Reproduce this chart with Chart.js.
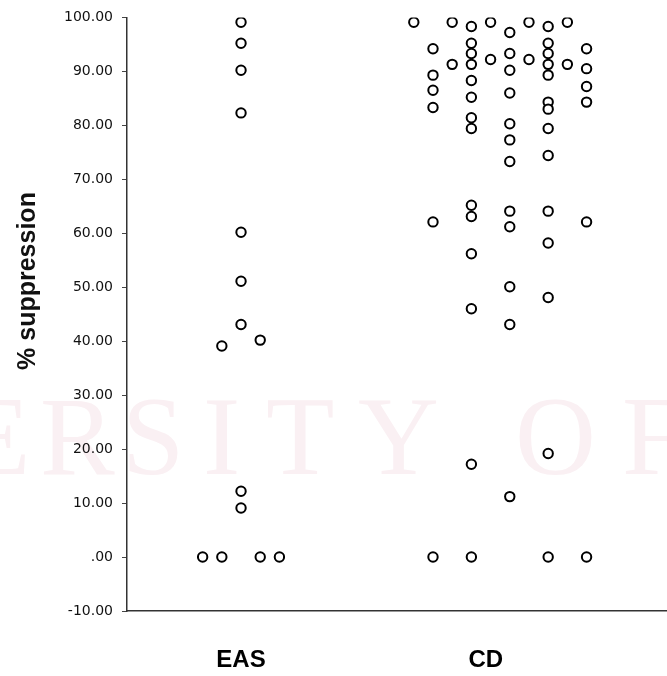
<!DOCTYPE html>
<html lang="en">
<head>
    <meta charset="UTF-8">
    <title>% suppression: EAS vs CD</title>
    <script src="https://cdn.jsdelivr.net/npm/chart.js"></script>
    <style>
        body { margin: 0; background: #fff; }
        #wrap { width: 667px; height: 676px; }
    </style>
</head>
<body>
    <div id="wrap"><canvas id="dotChart"></canvas></div>

    <script>
        // groups and where they sit on the x scale
        const categories = ['EAS', 'CD'];
        const groupCenters = [0, 13.5];
        const labelPositions = [0, 12.75];

        // dot columns (offset from group centre) and the values stacked in each
        const easSlots = [-2, -1, 0, 1, 2];
        const easValues = [
            [0],
            [39.1, 0],
            [99.1, 95.2, 90.2, 82.3, 60.2, 51.1, 43.1, 12.2, 9.1],
            [40.2, 0],
            [0]
        ];

        const cdSlots = [-4.5, -3.5, -2.5, -1.5, -0.5, 0.5, 1.5, 2.5, 3.5, 4.5];
        const cdValues = [
            [99.1],
            [94.2, 89.3, 86.5, 83.3, 62.1, 0],
            [99.1, 91.3],
            [98.3, 95.2, 93.3, 91.3, 88.3, 85.2, 81.4, 79.4, 65.2, 63.1, 56.2, 46.0, 17.2, 0],
            [99.1, 92.2],
            [97.2, 93.3, 90.2, 86.0, 80.3, 77.3, 73.3, 64.1, 61.2, 50.1, 43.1, 11.2],
            [99.1, 92.2],
            [98.3, 95.2, 93.3, 91.3, 89.3, 84.3, 83.0, 79.4, 74.4, 64.1, 58.2, 48.1, 19.2, 0],
            [99.1, 91.3],
            [94.2, 90.5, 87.2, 84.3, 62.1, 0]
        ];

        const yTicksMin = -10;
        const yTicksMax = 100;
        const yStep = 10;

        function buildPoints(center, slots, values) {
            const pts = [];
            slots.forEach((s, i) => {
                values[i].forEach(v => pts.push({ x: center + s, y: v }));
            });
            return pts;
        }

        const points = buildPoints(groupCenters[0], easSlots, easValues)
            .concat(buildPoints(groupCenters[1], cdSlots, cdValues));

        // faint scanned watermark behind the plot
        const watermark = {
            id: 'watermark',
            beforeDraw(chart) {
                const ctx = chart.ctx;
                ctx.save();
                ctx.fillStyle = '#faf0f3';
                ctx.font = '112px "Liberation Serif", serif';
                ctx.textBaseline = 'alphabetic';
                const letters = [['E', -38], ['R', 40], ['S', 122], ['I', 203], ['T', 266], ['Y', 358], ['O', 515], ['F', 622]];
                letters.forEach(([ch, x]) => ctx.fillText(ch, x, 474));
                ctx.restore();
            }
        };

        // y title drawn by hand so it can sit where the original has it
        const yTitle = {
            id: 'yTitle',
            afterDraw(chart) {
                const ctx = chart.ctx;
                ctx.save();
                ctx.translate(28, 281);
                ctx.rotate(-Math.PI / 2);
                ctx.font = 'bold 25px "Liberation Sans", Arial, sans-serif';
                ctx.fillStyle = '#111';
                ctx.textAlign = 'center';
                ctx.textBaseline = 'middle';
                ctx.fillText('% suppression', 0, 0);
                ctx.restore();
            }
        };

        const ctx = document.getElementById('dotChart').getContext('2d');
        new Chart(ctx, {
            type: 'scatter',
            data: {
                datasets: [{
                    label: '% suppression',
                    data: points,
                    pointStyle: 'circle',
                    pointRadius: 4.7,
                    pointBorderWidth: 2,
                    borderColor: '#000',
                    backgroundColor: '#fff',
                    pointHoverRadius: 4.7
                }]
            },
            options: {
                responsive: true,
                maintainAspectRatio: false,
                animation: false,
                events: [],
                layout: { autoPadding: false, padding: { top: 16, right: 0, bottom: 0, left: 0 } },
                plugins: {
                    legend: { display: false },
                    tooltip: { enabled: false }
                },
                scales: {
                    x: {
                        type: 'linear',
                        min: -5.94,
                        max: 22.19,
                        afterBuildTicks: s => { s.ticks = labelPositions.map(v => ({ value: v })); },
                        afterFit: s => { s.height = 65; s.paddingLeft = 0; s.paddingRight = 0; },
                        ticks: {
                            callback: (v, i) => categories[i],
                            color: '#000',
                            padding: 35,
                            maxRotation: 0,
                            autoSkip: false,
                            font: { family: '"Liberation Sans", Arial, sans-serif', size: 24, weight: 'bold', lineHeight: 1.2 }
                        },
                        grid: { display: false, drawTicks: false },
                        border: { display: true, color: '#333', width: 1.5 }
                    },
                    y: {
                        min: yTicksMin,
                        max: yTicksMax,
                        afterFit: s => { s.width = 127; },
                        ticks: {
                            stepSize: yStep,
                            color: '#111',
                            padding: 9,
                            font: { family: '"DejaVu Sans", sans-serif', size: 14, lineHeight: 1.2 },
                            callback: v => v === 0 ? '.00' : v.toFixed(2)
                        },
                        grid: { drawOnChartArea: false, drawTicks: true, tickLength: 5, color: '#444' },
                        border: { display: true, color: '#333', width: 1.5 }
                    }
                }
            },
            plugins: [watermark, yTitle]
        });
    </script>
</body>
</html>
